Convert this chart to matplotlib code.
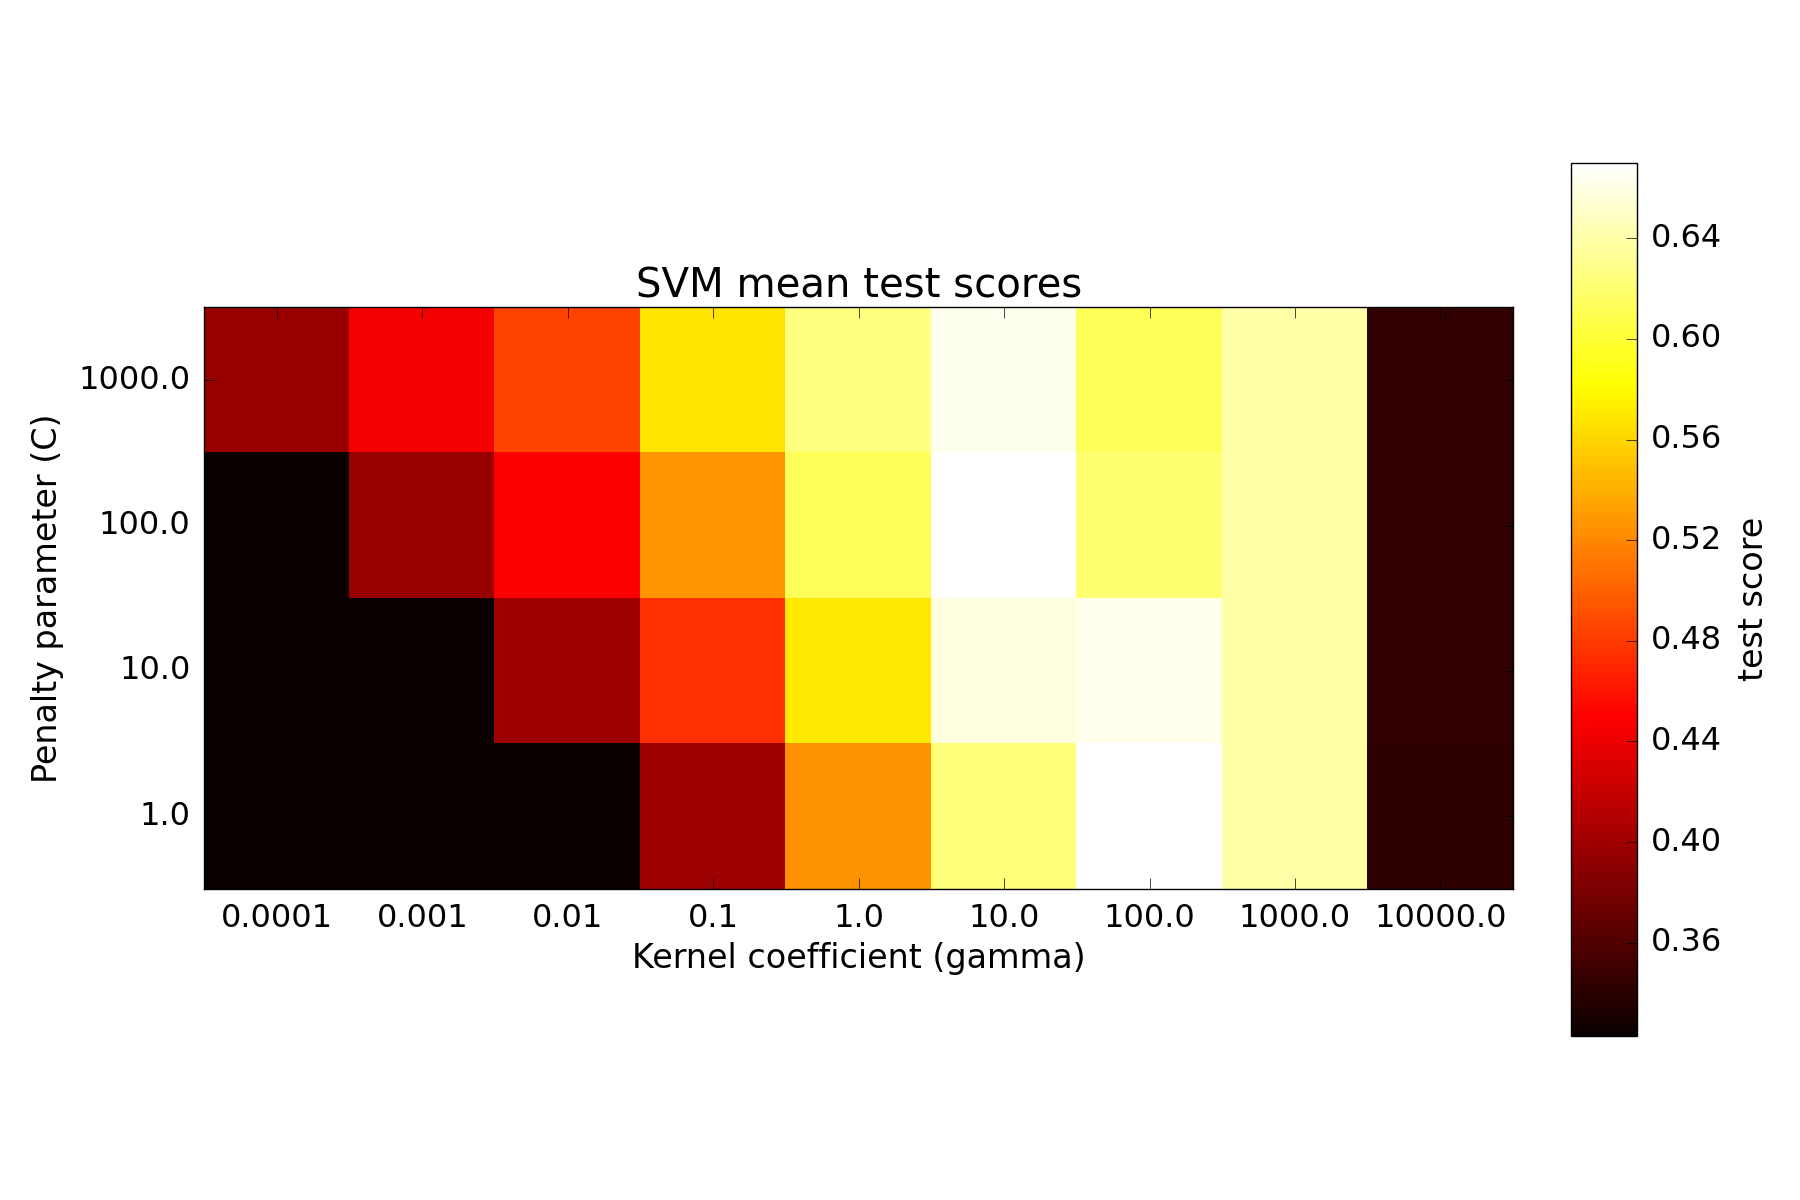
import matplotlib
matplotlib.use('Agg')
import matplotlib.pyplot as plt
import numpy as np

plt.style.use('classic')

gamma_range = [0.0001, 0.001, 0.01, 0.1, 1.0, 10.0, 100.0, 1000.0, 10000.0]
C_range = [1000.0, 100.0, 10.0, 1.0]

# mean test score per (C, gamma), rows follow C_range (top to bottom)
scores_C1000 = [0.397, 0.444, 0.485, 0.568, 0.626, 0.664, 0.612, 0.640, 0.344]
scores_C100 = [0.323, 0.397, 0.449, 0.527, 0.612, 0.670, 0.621, 0.640, 0.344]
scores_C10 = [0.323, 0.323, 0.399, 0.474, 0.571, 0.659, 0.662, 0.640, 0.344]
scores_C1 = [0.323, 0.323, 0.323, 0.400, 0.526, 0.623, 0.670, 0.640, 0.342]

scores = np.array([scores_C1000, scores_C100, scores_C10, scores_C1])

fig = plt.figure(figsize=(18, 12), dpi=100)
fig.patch.set_facecolor('white')

ax = fig.add_axes([0.1135, 0.2591, 0.7271, 0.4847])
im = ax.imshow(scores, interpolation='nearest', cmap='hot', aspect='auto')
ax.set_xticks(np.arange(len(gamma_range)))
ax.set_xticklabels([str(g) for g in gamma_range], fontsize=23)
ax.set_yticks(np.arange(len(C_range)))
ax.set_yticklabels([str(c) for c in C_range], fontsize=23)
ax.tick_params(length=8, pad=10)
ax.set_xlabel('Kernel coefficient (gamma)', fontsize=24, labelpad=6)
ax.set_ylabel('Penalty parameter (C)', fontsize=24, labelpad=10)
ax.set_title('SVM mean test scores', fontsize=29, y=1.005)

cax = fig.add_axes([0.8725, 0.1368, 0.0372, 0.7275])
cb = fig.colorbar(im, cax=cax)
cb.set_ticks([0.36, 0.40, 0.44, 0.48, 0.52, 0.56, 0.60, 0.64])
cb.ax.tick_params(labelsize=23, length=8, pad=10)
cb.set_label('test score', fontsize=24, labelpad=10)

fig.savefig('out.png', dpi=100, facecolor='white')
